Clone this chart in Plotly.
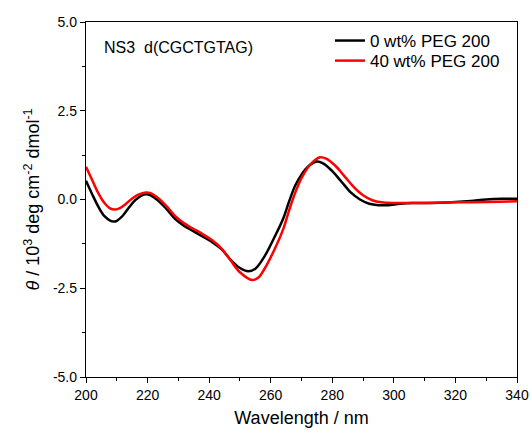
import plotly.graph_objects as go

wl_0 = [200, 202, 204, 206, 208, 209, 210, 212, 214, 216, 218, 219.5, 221, 223, 226, 229, 232, 235, 238, 241,
        244, 247, 250, 252.7, 255, 258, 261, 264, 266, 268, 270, 272, 275, 277, 280, 283, 286, 289, 292, 295,
        298, 302, 306, 310, 315, 320, 325, 330, 335, 340]
cd_0 = [0.53, 0.15, -0.2, -0.47, -0.6, -0.62, -0.6, -0.45, -0.22, -0.02, 0.11, 0.15, 0.12, 0.0, -0.25, -0.55,
        -0.75, -0.9, -1.05, -1.2, -1.4, -1.7, -1.93, -2.02, -1.95, -1.6, -1.1, -0.55, -0.05, 0.4, 0.7, 0.92,
        1.07, 1.02, 0.8, 0.5, 0.2, 0.0, -0.12, -0.16, -0.16, -0.12, -0.1, -0.1, -0.09, -0.07, -0.04, 0.0, 0.02, 0.02]

wl_40 = [200, 202, 204, 206, 208, 209.5, 211, 213, 215, 217, 219.5, 221, 223, 226, 229, 232, 235, 238, 241, 244,
         247, 250, 254, 256, 258, 261, 264, 266, 268, 270, 273, 276, 278, 281, 284, 287, 290, 293, 296, 300,
         305, 310, 320, 330, 340]
cd_40 = [0.92, 0.55, 0.18, -0.1, -0.26, -0.28, -0.24, -0.12, 0.03, 0.14, 0.2, 0.18, 0.07, -0.17, -0.47, -0.68,
         -0.83, -0.98, -1.15, -1.38, -1.72, -2.05, -2.27, -2.2, -1.95, -1.45, -0.85, -0.3, 0.2, 0.6, 1.0, 1.19,
         1.15, 0.95, 0.65, 0.35, 0.12, -0.02, -0.08, -0.1, -0.1, -0.1, -0.08, -0.07, -0.05]

series_names = ["0 wt% PEG 200", "40 wt% PEG 200"]
series_colors = ["#000000", "#ff0000"]

x_ticks = [200, 220, 240, 260, 280, 300, 320, 340]
y_ticks = [-5.0, -2.5, 0.0, 2.5, 5.0]
y_tick_labels = ["-5.0", "-2.5", "0.0", "2.5", "5.0"]

FONT = "Liberation Sans, Arial, sans-serif"

fig = go.Figure()
for xs, ys, name, col, lg in [(wl_0, cd_0, series_names[0], series_colors[0], "legend"),
                              (wl_40, cd_40, series_names[1], series_colors[1], "legend2")]:
    fig.add_trace(go.Scatter(x=xs, y=ys, mode="lines", name=name, legend=lg,
                             line=dict(color=col, width=2.5, shape="spline", smoothing=1.0)))

fig.add_annotation(text="NS3  d(CGCTGTAG)", xref="paper", yref="paper", x=0.037, y=0.928,
                   xanchor="left", yanchor="middle", showarrow=False,
                   font=dict(family=FONT, size=16, color="#000"))

axis_common = dict(showline=True, linecolor="#000", linewidth=1.3, mirror=True, ticks="outside",
                   ticklen=5, tickwidth=1.2, tickcolor="#000", showgrid=False, zeroline=False,
                   automargin=False,
                   tickfont=dict(family=FONT, size=14, color="#000"))

fig.update_xaxes(range=[200, 340], tickvals=x_ticks,
                 minor=dict(dtick=10, ticks="outside", ticklen=3, tickwidth=1.2, tickcolor="#000"),
                 title=dict(text="Wavelength / nm", font=dict(family=FONT, size=18, color="#000"), standoff=9),
                 **axis_common)
fig.update_yaxes(range=[-5, 5], tickvals=y_ticks, ticktext=y_tick_labels,
                 minor=dict(dtick=1.25, tick0=0, ticks="outside", ticklen=3, tickwidth=1.2, tickcolor="#000"),
                 title=dict(text="<i>θ</i> / 10<sup>3</sup> deg cm<sup>-2</sup> dmol<sup>-1</sup>",
                            font=dict(family=FONT, size=18, color="#000"), standoff=8),
                 **axis_common)

leg_common = dict(xanchor="left", yanchor="middle", bgcolor="rgba(0,0,0,0)",
                  font=dict(family=FONT, size=17, color="#000"), itemwidth=30)

fig.update_layout(
    width=531, height=432,
    margin=dict(l=86, r=14, t=22, b=55),
    paper_bgcolor="white", plot_bgcolor="white",
    showlegend=True,
    legend=dict(x=0.566, y=0.9465, **leg_common),
    legend2=dict(x=0.566, y=0.890, **leg_common),
)

fig.write_html("out.html")
